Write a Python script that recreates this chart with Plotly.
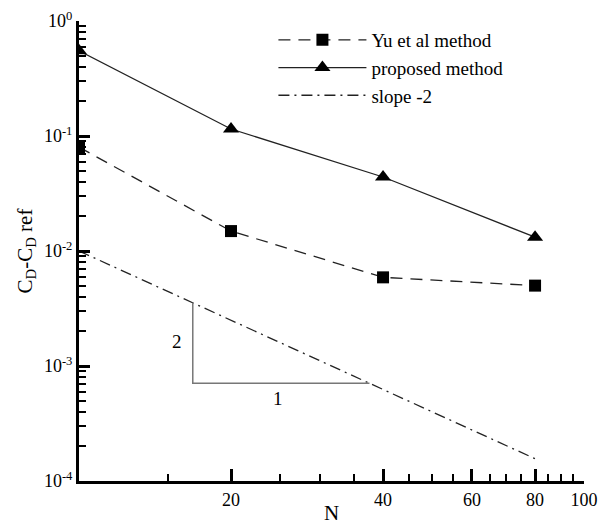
import numpy as np
import plotly.graph_objects as go

# ---- data ----
N = [10, 20, 40, 80]
yu_err = [0.080, 0.0149, 0.0059, 0.0050]
proposed_err = [0.55, 0.115, 0.044, 0.0132]
slope_N = [10, 80]
slope_err = [1.0e-2, 1.5625e-4]          # slope -2 reference (1/N^2)
tri_N = [16.8, 16.8, 37.6]
tri_err = [3.54e-3, 7.08e-4, 7.08e-4]
label2_pos = (15.6, 1.62e-3)
label1_pos = (24.8, 5.2e-4)

x_major = [20, 40, 60, 80, 100]
x_major_text = ["20", "40", "60", "80", "100"]
x_minor = [15, 25, 30, 35, 45, 50, 55, 65, 70, 75, 85, 90, 95]
y_major = [1e-4, 1e-3, 1e-2, 1e-1, 1e0]
y_major_text = ["10<sup>-4</sup>", "10<sup>-3</sup>", "10<sup>-2</sup>",
                "10<sup>-1</sup>", "10<sup>0</sup>"]
y_minor = [k * 10.0 ** e for e in range(-4, 0) for k in range(2, 10)]

FONT = "Liberation Serif"

fig = go.Figure()
fig.add_trace(go.Scatter(
    x=N, y=yu_err, mode="lines+markers", name="Yu et al method",
    line=dict(color="#222222", width=1.3, dash="12px,8px"),
    marker=dict(symbol="square", size=12, color="black")))
fig.add_trace(go.Scatter(
    x=N, y=proposed_err, mode="lines+markers", name="proposed method",
    line=dict(color="#222222", width=1.3),
    marker=dict(symbol="triangle-up", size=14, color="black")))
fig.add_trace(go.Scatter(
    x=slope_N, y=slope_err, mode="lines", name="slope -2",
    line=dict(color="#222222", width=1.3, dash="11px,5px,2px,5px")))
fig.add_trace(go.Scatter(
    x=tri_N, y=tri_err, mode="lines", showlegend=False,
    line=dict(color="#777777", width=1.5)))

fig.add_annotation(x=np.log10(label2_pos[0]), y=np.log10(label2_pos[1]),
                   text="2", showarrow=False, font=dict(family=FONT, size=19, color="black"))
fig.add_annotation(x=np.log10(label1_pos[0]), y=np.log10(label1_pos[1]),
                   text="1", showarrow=False, font=dict(family=FONT, size=19, color="black"))

# page body has an 8px margin: shift figure geometry to compensate
fig.update_layout(
    width=598, height=517,
    margin=dict(l=71, r=22, t=13, b=44, autoexpand=False),
    paper_bgcolor="white", plot_bgcolor="white",
    font=dict(family=FONT, size=18, color="black"),
    showlegend=True,
    legend=dict(x=0.385, y=1.0, xanchor="left", yanchor="top",
                bgcolor="rgba(0,0,0,0)", font=dict(family=FONT, size=19),
                itemwidth=88, tracegroupgap=0),
)
fig.update_xaxes(
    type="log", range=[1, 2], automargin=False,
    showline=True, linecolor="black", linewidth=3, mirror=False,
    showgrid=False, zeroline=False,
    tickmode="array", tickvals=x_major, ticktext=x_major_text,
    ticks="inside", ticklen=12, tickwidth=3, tickcolor="black",
    tickfont=dict(family=FONT, size=18),
    minor=dict(tickmode="array", tickvals=x_minor, ticks="inside",
               ticklen=7, tickwidth=1.5, tickcolor="black", showgrid=False),
    title=dict(text="N", font=dict(family=FONT, size=21), standoff=0),
)
fig.update_yaxes(
    type="log", range=[-4, 0], automargin=False,
    showline=True, linecolor="black", linewidth=3, mirror=False,
    showgrid=False, zeroline=False,
    tickmode="array", tickvals=y_major, ticktext=y_major_text,
    ticks="inside", ticklen=11, tickwidth=3, tickcolor="black",
    tickfont=dict(family=FONT, size=18),
    minor=dict(tickmode="array", tickvals=y_minor, ticks="inside",
               ticklen=7, tickwidth=1.5, tickcolor="black", showgrid=False),
    title=dict(text="C<sub>D</sub>-C<sub>D</sub> ref", font=dict(family=FONT, size=21), standoff=6),
)

fig.write_html("out.html")
